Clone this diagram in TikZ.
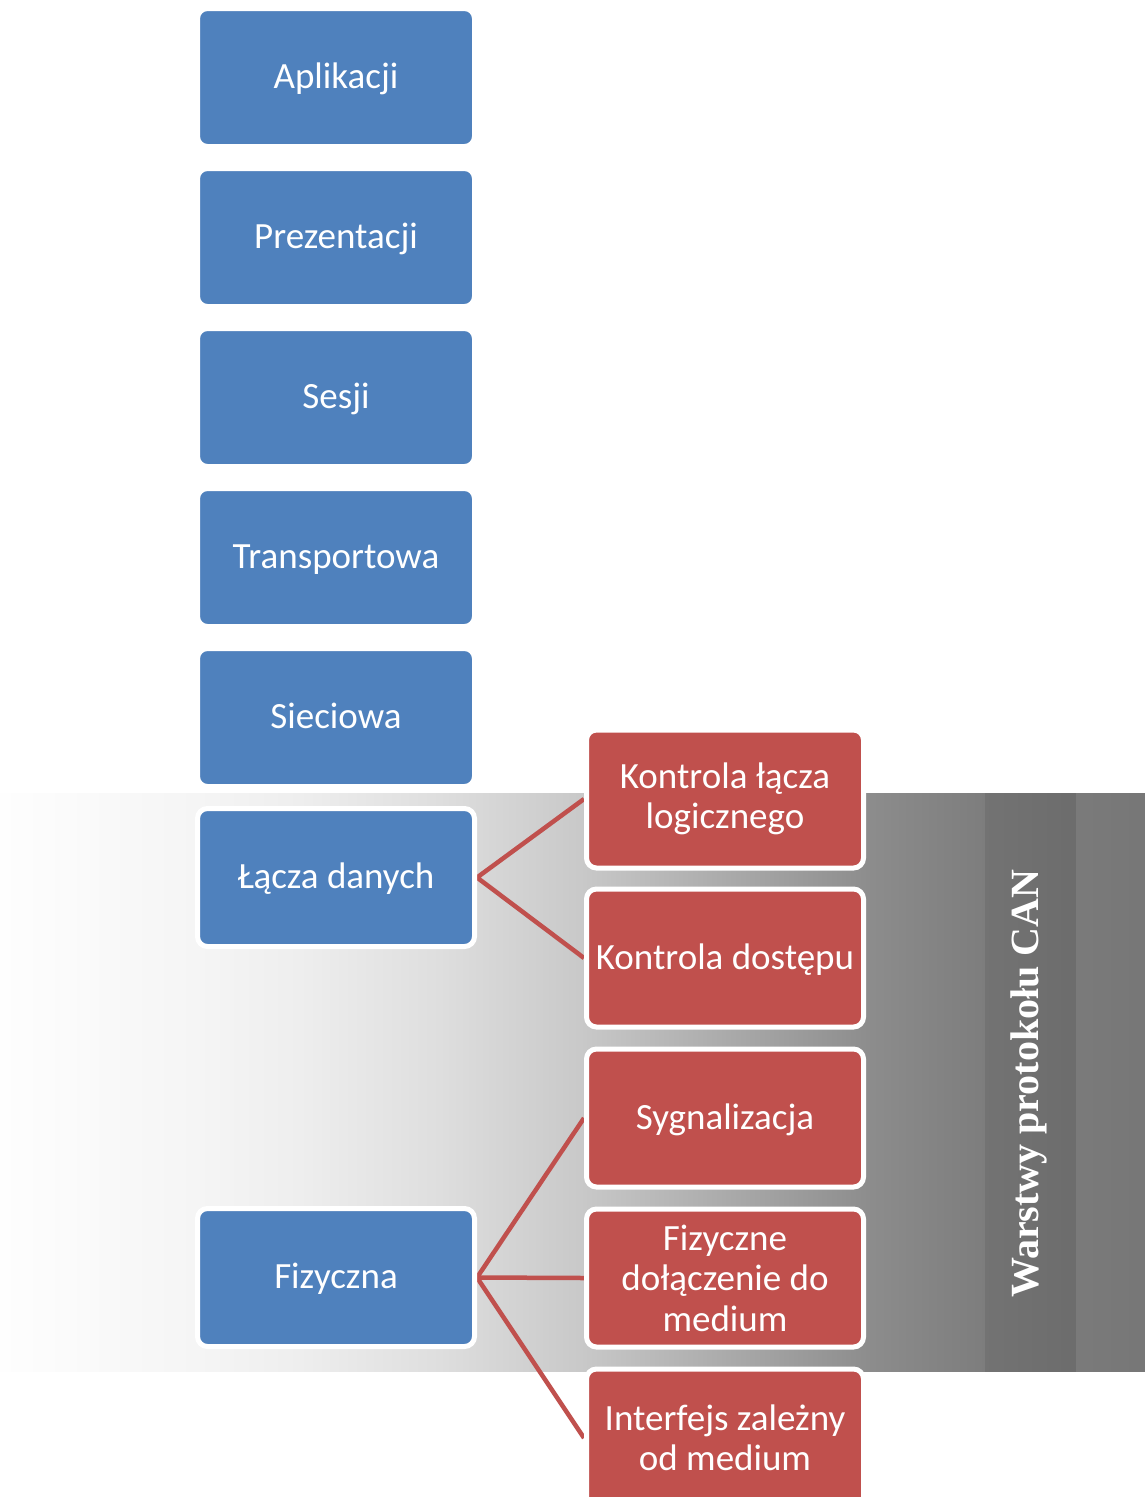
\documentclass[tikz,border=0pt]{standalone}
\usepackage{fontspec}
\setmainfont{Carlito}
\newfontfamily\capfont{Liberation Serif Bold}
\usetikzlibrary{positioning}

\definecolor{layerblue}{HTML}{4F81BD}
\definecolor{canred}{HTML}{C0504D}
% grey steps of the CAN band, left to right
\definecolor{gA}{gray}{0.996}
\definecolor{gB}{gray}{0.96}
\definecolor{gC}{gray}{0.933}
\definecolor{gD}{gray}{0.87}
\definecolor{gE}{gray}{0.784}
\definecolor{gF}{gray}{0.55}
\definecolor{gG}{gray}{0.49}
\definecolor{gH}{gray}{0.45}
\definecolor{gI}{gray}{0.425}
\definecolor{gJ}{gray}{0.48}
\definecolor{gK}{gray}{0.465}

\pgfdeclarelayer{band}
\pgfdeclarelayer{links}
\pgfsetlayers{band,links,main}

\tikzset{
  osibox/.style={rectangle, rounded corners=10pt, fill=layerblue, draw=white,
    line width=5pt, minimum width=277pt, minimum height=138pt, inner sep=0pt,
    text=white, font=\fontsize{37}{40.5}\selectfont, align=center},
  onelabel/.style={text height=29pt, text depth=7pt},
  canbox/.style={osibox, fill=canred},
  link/.style={draw=canred, line width=4.5pt, line join=miter},
  bandtitle/.style={rotate=90, text=white, inner sep=0pt,
    font=\capfont\fontsize{40}{48}\selectfont}
}

\begin{document}
\begin{tikzpicture}[x=1pt,y=-1pt]
\useasboundingbox (0,0) rectangle (1145,1497);

% OSI layers
\node[osibox, onelabel] (apl) at (336,77.5)   {Aplikacji};
\node[osibox, onelabel] (pre) at (336,237.5)  {Prezentacji};
\node[osibox, onelabel] (ses) at (336,397.5)  {Sesji};
\node[osibox, onelabel] (tra) at (336,557.5)  {Transportowa};
\node[osibox, onelabel] (sie) at (336,717.5)  {Sieciowa};
\node[osibox, onelabel] (lac) at (336,877.5)  {Łącza danych};
\node[osibox, onelabel] (fiz) at (336,1277.5) {Fizyczna};

% CAN sublayers
\node[canbox] (klg) at (725,799)  {Kontrola łącza\\logicznego};
\node[canbox, onelabel] (kdo) at (725,958)  {Kontrola dostępu};
\node[canbox, onelabel] (syg) at (725,1118) {Sygnalizacja};
\node[canbox] (fdm) at (725,1278) {Fizyczne\\dołączenie do\\medium};
\node[canbox] (ifm) at (725,1438) {Interfejs zależny\\od medium};

\node[bandtitle] (title) at (1029,1083.5) {Warstwy protokołu CAN};

\begin{pgfonlayer}{links}
  \draw[link] (klg.west) -- (lac.east) -- (kdo.west);
  \draw[link] (syg.west) -- (fiz.east) -- (ifm.west);
  \draw[link] (fiz.east) -- (fdm.west);
\end{pgfonlayer}

\begin{pgfonlayer}{band}
  \shade[left color=gA, right color=gB] (0,793) rectangle (201,1371);
  \shade[left color=gB, right color=gC] (200,793) rectangle (301,1371);
  \shade[left color=gC, right color=gD] (300,793) rectangle (441,1371);
  \shade[left color=gD, right color=gE] (440,793) rectangle (586,1371);
  \shade[left color=gE, right color=gF] (585,793) rectangle (871,1371);
  \shade[left color=gF, right color=gG] (870,793) rectangle (986,1371);
  \shade[left color=gH, right color=gI] (985,793) rectangle (1077,1371);
  \shade[left color=gJ, right color=gK] (1076,793) rectangle (1145,1371);
\end{pgfonlayer}
\end{tikzpicture}
\end{document}
